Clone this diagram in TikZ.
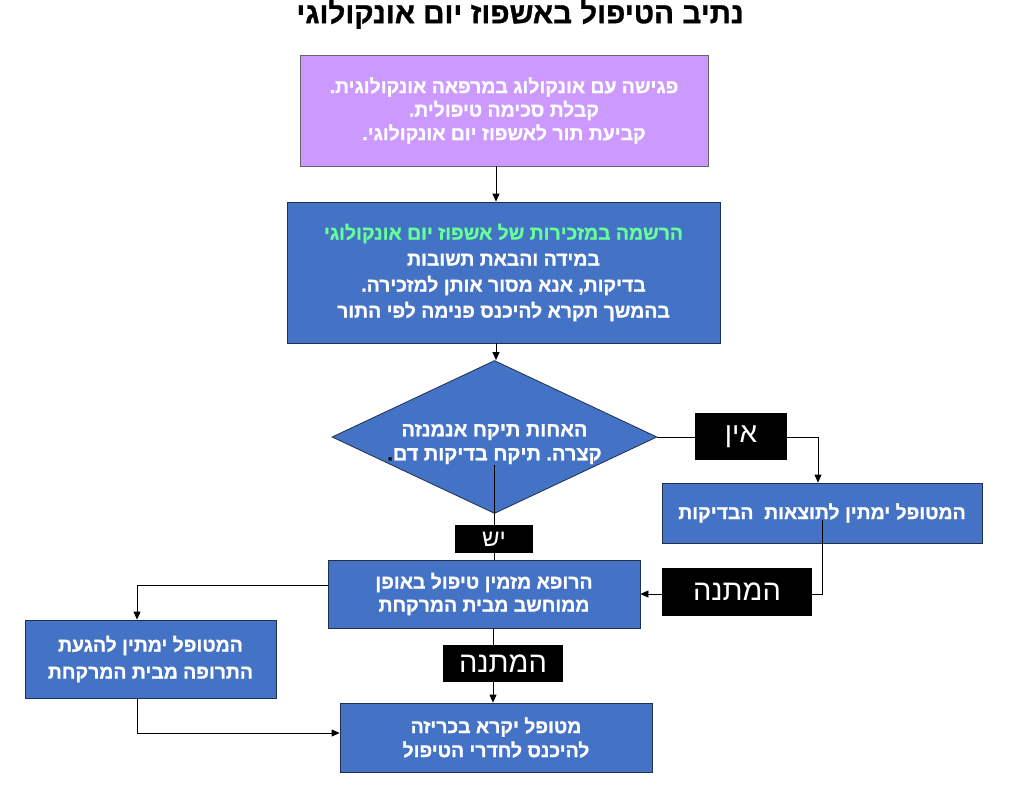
\documentclass[tikz,border=0pt]{standalone}
\usepackage{fontspec}
\usepackage{tikz}
\usetikzlibrary{arrows.meta, calc, shapes.geometric}
\TeXXeTstate=1
\frenchspacing
\newfontfamily\hebfont[Script=Hebrew, BoldFont={Liberation Sans Bold}, BoldFeatures={FakeBold=1}]{Liberation Sans}
\newcommand{\heb}[1]{\beginR #1\endR}
\definecolor{boxblue}{HTML}{4472C4}
\definecolor{boxpurple}{HTML}{CC99FF}
\definecolor{boxline}{HTML}{1F3050}
\definecolor{notegreen}{HTML}{66FF99}

\tikzset{
  flowbox/.style={draw=boxline, line width=0.8pt, fill=boxblue, text=white, align=center, inner sep=0pt,
    font=\hebfont\bfseries\fontsize{19.4}{24}\selectfont},
  tagbox/.style={fill=black, text=white, inner sep=0pt, font=\hebfont\fontsize{28}{32}\selectfont},
  flowline/.style={line width=0.8pt},
  flowarrow/.style={line width=0.8pt, -{Triangle[length=8pt,width=7pt]}},
}

\begin{document}
\begin{tikzpicture}[x=1pt, y=-1pt]
\useasboundingbox (0,0) rectangle (1015,803);

% Title
\node[font=\hebfont\bfseries\fontsize{29.6}{33}\selectfont] (title) at (520,14) {\heb{נתיב הטיפול באשפוז יום אונקולוגי}};

% Boxes
\node[flowbox, fill=boxpurple, draw=black!60, minimum width=408pt, minimum height=111pt,
  font=\hebfont\bfseries\fontsize{19.4}{23.5}\selectfont] (intake) at (504,110.5)
  {\heb{פגישה עם אונקולוג במרפאה אונקולוגית.}\\ \heb{קבלת סכימה טיפולית.}\\ \heb{קביעת תור לאשפוז יום אונקולוגי.}};
\node[flowbox, minimum width=433pt, minimum height=141pt,
  font=\hebfont\bfseries\fontsize{19.4}{26}\selectfont] (register) at (503.5,272.5)
  {\textcolor{notegreen}{\heb{הרשמה במזכירות של אשפוז יום אונקולוגי}}\\ \heb{במידה והבאת תשובות}\\
   \heb{בדיקות, אנא מסור אותן למזכירה.}\\ \heb{בהמשך תקרא להיכנס פנימה לפי התור}};
\node[diamond, draw=boxline, line width=0.8pt, fill=boxblue, minimum width=325pt, minimum height=153pt, inner sep=0pt] (nurse) at (494.5,437) {};
\node[flowbox, draw=none, fill=none, font=\hebfont\bfseries\fontsize{20}{24}\selectfont] (nursetext) at (494.5,444)
  {\heb{האחות תיקח אנמנזה}\\ {\color{black}.}\heb{קצרה. תיקח בדיקות דם}};
\node[flowbox, minimum width=320pt, minimum height=60pt] (waittests) at (822,513)
  {\heb{המטופל ימתין לתוצאות \ הבדיקות}};
\node[flowbox, minimum width=312pt, minimum height=68pt, font=\hebfont\bfseries\fontsize{19.4}{23}\selectfont] (appoint) at (484,594)
  {\heb{הרופא מזמין טיפול באופן}\\ \heb{ממוחשב מבית המרקחת}};
\node[flowbox, minimum width=251pt, minimum height=78pt, font=\hebfont\bfseries\fontsize{19.4}{27}\selectfont] (pharm) at (150.5,659)
  {\heb{המטופל ימתין להגעת}\\ \heb{התרופה מבית המרקחת}};
\node[flowbox, minimum width=312pt, minimum height=69pt] (call) at (496,737.5)
  {\heb{מטופל יקרא בכריזה}\\ \heb{להיכנס לחדרי הטיפול}};

% Connectors
\coordinate (midcol) at (496,0);
\coordinate (yesstart) at (494.5,465);
\coordinate (noturn) at (818,437);
\coordinate (resstart) at (822,520);
\coordinate (leftcol) at (137,0);
\coordinate (centercol) at (493,0);
\draw[flowarrow] (intake.south -| midcol) -- (register.north -| midcol);
\draw[flowarrow] (register.south -| midcol) -- (nurse.north -| midcol);
\draw[flowline] (yesstart) -- (appoint.north -| yesstart);
\draw[flowarrow] (nurse.east) -- (noturn) -- (noturn |- waittests.north);
\draw[flowarrow] (resstart) |- (appoint.east);
\draw[flowarrow] ($(appoint.west)+(0,-9)$) -| (leftcol |- pharm.north);
\draw[flowarrow] (leftcol |- pharm.south) |- ($(call.west)+(0,-4.5)$);
\draw[flowarrow] (appoint.south -| centercol) -- (call.north -| centercol);

% Tags
\node[tagbox, minimum width=92pt, minimum height=47pt] (tagno) at (741,436.5) {\heb{אין}};
\node[tagbox, minimum width=78pt, minimum height=28pt, font=\hebfont\fontsize{24}{28}\selectfont] (tagyes) at (494,539) {\heb{יש}};
\node[tagbox, minimum width=150pt, minimum height=48pt, font=\hebfont\fontsize{29}{33}\selectfont] (tagwaitr) at (737,592) {\heb{המתנה}};
\node[tagbox, minimum width=120pt, minimum height=37pt, font=\hebfont\fontsize{29}{33}\selectfont] (tagwaitc) at (503,663.5) {\heb{המתנה}};
\end{tikzpicture}
\end{document}
